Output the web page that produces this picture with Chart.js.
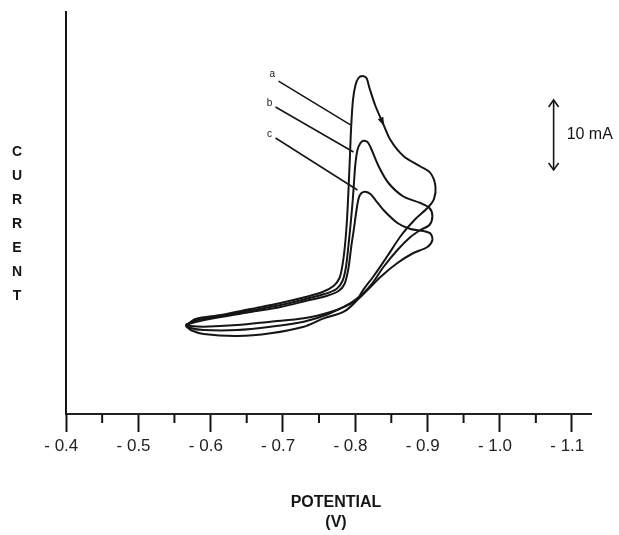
<!DOCTYPE html>
<html><head><meta charset="utf-8">
<script src="https://cdn.jsdelivr.net/npm/chart.js@4.4.0/dist/chart.umd.min.js"></script>
<style>html,body{margin:0;padding:0;background:#fff;}canvas{display:block;}</style>
</head><body>
<canvas id="c" width="619" height="535"></canvas>
<script>
// ---- axis ticks ----
const tickValues = [-0.4, -0.5, -0.6, -0.7, -0.8, -0.9, -1.0, -1.1];
const tickLabels = ['- 0.4', '- 0.5', '- 0.6', '- 0.7', '- 0.8', '- 0.9', '- 1.0', '- 1.1'];
const minorTickValues = [-0.45, -0.55, -0.65, -0.75, -0.85, -0.95, -1.05];

// ---- series: potential (V) and current (mA, arbitrary zero) ----
const aPotential = [-0.5655,-0.5793,-0.6139,-0.6553,-0.6968,-0.7314,-0.7549,-0.7701,-0.7784,-0.7825,-0.7860,-0.7887,-0.7908,-0.7926,-0.7945,-0.7970,-0.8005,-0.8046,-0.8101,-0.8157,-0.8198,-0.8281,-0.8378,-0.8489,-0.8668,-0.8903,-0.9041,-0.9111,-0.9090,-0.9000,-0.8834,-0.8641,-0.8447,-0.8267,-0.8101,-0.8028,-0.7843,-0.7567,-0.7290,-0.6830,-0.6369,-0.5904,-0.5724,-0.5655];
const aCurrent   = [12.57,13.57,14.14,15.0,15.86,16.71,17.43,18.29,19.43,21.29,24.14,27.71,32.0,36.29,41.0,44.86,47.0,48.0,48.29,48.0,46.57,44.0,41.71,39.14,36.86,35.36,34.43,32.57,30.71,29.43,27.86,25.57,22.57,19.86,17.57,16.29,14.61,13.67,12.47,11.53,11.14,11.43,12.0,12.57];

const bPotential = [-0.5655,-0.5793,-0.6139,-0.6553,-0.6968,-0.7314,-0.7576,-0.7742,-0.7825,-0.7873,-0.7908,-0.7936,-0.7967,-0.7991,-0.8005,-0.8032,-0.8074,-0.8119,-0.8171,-0.8212,-0.8323,-0.8461,-0.8668,-0.8903,-0.9028,-0.9069,-0.9028,-0.8903,-0.8765,-0.8585,-0.8392,-0.8240,-0.8115,-0.7936,-0.7631,-0.7290,-0.6830,-0.6369,-0.5904,-0.5724,-0.5655];
const bCurrent   = [12.71,13.36,14.0,14.79,15.57,16.43,17.14,17.86,19.0,21.0,24.14,27.0,30.57,34.14,35.86,37.71,38.71,39.04,38.86,38.14,35.43,33.0,31.07,30.14,29.43,28.29,27.0,26.29,25.29,23.43,21.0,18.71,17.29,15.86,14.29,13.19,12.47,12.0,12.0,12.29,12.71];

const cPotential = [-0.5655,-0.5793,-0.6139,-0.6553,-0.6968,-0.7314,-0.7604,-0.7770,-0.7853,-0.7908,-0.7949,-0.7981,-0.8019,-0.8050,-0.8088,-0.8143,-0.8212,-0.8281,-0.8392,-0.8585,-0.8765,-0.8945,-0.9041,-0.9069,-0.9000,-0.8806,-0.8585,-0.8350,-0.8171,-0.8005,-0.7659,-0.7290,-0.6830,-0.6369,-0.5904,-0.5724,-0.5655];
const cCurrent   = [12.71,13.14,13.86,14.57,15.29,16.14,16.86,17.57,18.57,20.86,24.14,26.29,29.14,30.86,31.57,31.76,31.43,30.57,29.14,27.29,26.43,26.14,25.79,24.86,23.86,23.0,21.57,19.57,17.71,16.14,14.57,13.67,13.19,12.71,12.47,12.57,12.71];

// ---- annotations (data units) ----
const curveLabels = ['a', 'b', 'c'];
const labelPos    = [[-0.6853, 48.57], [-0.6816, 44.39], [-0.6816, 40.0]];
const leaderStart = [[-0.6940, 47.57], [-0.6899, 43.86], [-0.6899, 39.43]];
const leaderEnd   = [[-0.7936, 41.29], [-0.7977, 37.43], [-0.8032, 32.0]];
const scanArrow   = [-0.8374, 41.76];
const scaleBarPotential = -1.0746;
const scaleBarCurrent = [34.86, 44.86]; // 10 mA
const scaleBarText = '10 mA';
const yTitle = 'CURRENT';
const xTitle = ['POTENTIAL', '(V)'];

const pts = (xs, ys) => xs.map((x, i) => ({x, y: ys[i]}));
const lineStyle = {showLine: true, pointRadius: 0, borderColor: '#151515', borderWidth: 2, tension: 0.3, fill: false};

const annot = {
  id: 'annot',
  afterDraw(chart) {
    const {ctx, scales: {x, y}} = chart;
    const P = (v, i) => [x.getPixelForValue(v), y.getPixelForValue(i)];
    ctx.save();
    ctx.fillStyle = '#151515'; ctx.strokeStyle = '#151515';
    ctx.textAlign = 'center'; ctx.textBaseline = 'middle';
    // y title, vertical letters
    ctx.font = 'bold 14px "Liberation Sans", Arial, sans-serif';
    [...yTitle].forEach((ch, k) => ctx.fillText(ch, 17, 152 + 24 * k));
    // x title
    ctx.font = 'bold 16px "Liberation Sans", Arial, sans-serif';
    ctx.fillText(xTitle[0], 336, 503);
    ctx.fillText(xTitle[1], 336, 523);
    // curve labels + leader lines
    ctx.font = '10px "Liberation Sans", Arial, sans-serif';
    ctx.lineWidth = 1.5;
    curveLabels.forEach((t, k) => {
      const [lx, ly] = P(...labelPos[k]);
      ctx.fillText(t, lx, ly);
      const [sx, sy] = P(...leaderStart[k]);
      const [ex, ey] = P(...leaderEnd[k]);
      ctx.beginPath(); ctx.moveTo(sx, sy); ctx.lineTo(ex, ey); ctx.stroke();
    });
    // scan direction arrow on curve a
    const [ax, ay] = P(...scanArrow);
    const dx = 15, dy = 34, len = Math.hypot(dx, dy);
    const ux = dx / len, uy = dy / len;
    ctx.beginPath();
    ctx.moveTo(ax + ux * 5, ay + uy * 5);
    ctx.lineTo(ax - ux * 4 - uy * 3, ay - uy * 4 + ux * 3);
    ctx.lineTo(ax - ux * 4 + uy * 3, ay - uy * 4 - ux * 3);
    ctx.closePath(); ctx.fill();
    // scale bar
    const [bx, by0] = P(scaleBarPotential, scaleBarCurrent[0]);
    const [, by1] = P(scaleBarPotential, scaleBarCurrent[1]);
    ctx.lineWidth = 1.6;
    ctx.beginPath(); ctx.moveTo(bx, by0); ctx.lineTo(bx, by1); ctx.stroke();
    ctx.beginPath();
    ctx.moveTo(bx - 5, by1 + 7); ctx.lineTo(bx, by1); ctx.lineTo(bx + 5, by1 + 7);
    ctx.moveTo(bx - 5, by0 - 7); ctx.lineTo(bx, by0); ctx.lineTo(bx + 5, by0 - 7);
    ctx.stroke();
    ctx.textAlign = 'left';
    ctx.font = '16px "Liberation Sans", Arial, sans-serif';
    ctx.fillText(scaleBarText, bx + 13, (by0 + by1) / 2);
    // minor ticks on the potential axis
    ctx.lineWidth = 2;
    const yb = chart.chartArea.bottom;
    minorTickValues.forEach(v => {
      const px = x.getPixelForValue(v);
      ctx.beginPath(); ctx.moveTo(px, yb); ctx.lineTo(px, yb + 9); ctx.stroke();
    });
    ctx.restore();
  }
};

new Chart(document.getElementById('c'), {
  type: 'scatter',
  data: {
    datasets: [
      {label: 'a', data: pts(aPotential, aCurrent), ...lineStyle},
      {label: 'b', data: pts(bPotential, bCurrent), ...lineStyle},
      {label: 'c', data: pts(cPotential, cCurrent), ...lineStyle}
    ]
  },
  options: {
    responsive: false,
    animation: false,
    layout: {padding: {left: 66, right: 28, top: 12, bottom: 0}},
    plugins: {legend: {display: false}, tooltip: {enabled: false}},
    scales: {
      x: {
        type: 'linear', reverse: true, min: -1.1263, max: -0.4,
        afterBuildTicks: s => { s.ticks = tickValues.map(v => ({value: v})); },
        afterFit: s => { s.height = 121; },
        ticks: {
          callback: v => { const k = tickValues.findIndex(t => Math.abs(t - v) < 1e-6); return k >= 0 ? tickLabels[k] + '  ' : ''; },
          color: '#222', font: {family: '"Liberation Sans", Arial, sans-serif', size: 17}, padding: 4, maxRotation: 0, autoSkip: false
        },
        grid: {drawOnChartArea: false, drawTicks: true, tickLength: 18, tickColor: '#151515', tickWidth: 2},
        border: {display: true, color: '#222', width: 2}
      },
      y: {
        type: 'linear', min: 0, max: 57.43,
        afterFit: s => { s.width = 0; },
        ticks: {display: false},
        grid: {display: false, drawTicks: false},
        border: {display: true, color: '#151515', width: 2}
      }
    }
  },
  plugins: [annot]
});
</script>
</body></html>
